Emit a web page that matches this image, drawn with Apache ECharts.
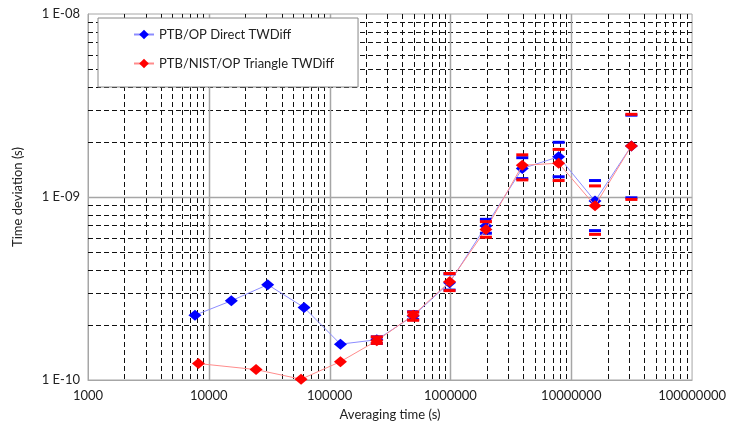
<!DOCTYPE html>
<html>
<head>
<meta charset="utf-8">
<script src="https://cdn.jsdelivr.net/npm/echarts@6/dist/echarts.min.js"></script>
<style>
  html, body { margin: 0; padding: 0; background: #fff; }
  #chart { width: 729px; height: 428px; }
</style>
</head>
<body>
<div id="chart"></div>
<script>
// averaging times (s) and time deviation (s)
const tauBlue = [7680, 15360, 30720, 61440, 122880, 245760, 491520, 983040, 1966080, 3932160, 7864320, 15728640, 31457280]
const tdevBlue = [2.26e-10, 2.71e-10, 3.32e-10, 2.49e-10, 1.57e-10, 1.66e-10, 2.24e-10, 3.40e-10, 6.95e-10, 1.43e-9, 1.66e-9, 9.5e-10, 1.90e-9]
const blueLow = [null, null, null, null, null, 1.585e-10, 2.14e-10, 3.1e-10, 6.34e-10, 1.26e-9, 1.29e-9, 6.55e-10, 9.9e-10]
const blueHigh = [null, null, null, null, null, 1.72e-10, 2.36e-10, 3.8e-10, 7.55e-10, 1.64e-9, 1.99e-9, 1.23e-9, 2.80e-9]

const tauRed = [8200, 24600, 58000, 122880, 245760, 491520, 983040, 1966080, 3932160, 7864320, 15728640, 31457280]
const tdevRed = [1.23e-10, 1.14e-10, 1.01e-10, 1.26e-10, 1.64e-10, 2.26e-10, 3.44e-10, 6.65e-10, 1.49e-9, 1.53e-9, 8.97e-10, 1.90e-9]
const redLow = [null, null, null, null, 1.585e-10, 2.12e-10, 3.08e-10, 6.03e-10, 1.24e-9, 1.23e-9, 6.25e-10, 9.7e-10]
const redHigh = [null, null, null, null, 1.72e-10, 2.35e-10, 3.82e-10, 7.33e-10, 1.70e-9, 1.82e-9, 1.15e-9, 2.83e-9]

const xMajor = [10000, 100000, 1000000, 10000000]
const yMajor = [1e-9]
const yLabels = { '-10': '1 E-10', '-9': '1 E-09', '-8': '1 E-08' }

const font = 'Lato, "Open Sans", sans-serif'

const xMinor = []
for (let d = 1000; d < 1e8; d *= 10) {
  for (let m = 2; m <= 9; m++) xMinor.push(d * m)
}
const yMinor = []
for (const d of [1e-10, 1e-9]) {
  for (let m = 2; m <= 9; m++) yMinor.push(d * m)
}

const dashed = { stroke: '#111', lineWidth: 1, lineDash: [5, 3] }
const solid = { stroke: '#a6a6a6', lineWidth: 1.5 }

// grid lines drawn through the axes' own scales
const gridSeries = (values, vertical, style) => ({
  type: 'custom',
  silent: true,
  z: 1,
  data: values.map((v) => (vertical ? [v, 1e-9] : [10000, v])),
  renderItem: (params, api) => {
    const cs = params.coordSys
    const p = api.coord([api.value(0), api.value(1)])
    const shape = vertical
      ? { x1: Math.round(p[0]) + 0.5, y1: cs.y, x2: Math.round(p[0]) + 0.5, y2: cs.y + cs.height }
      : { x1: cs.x, y1: Math.round(p[1]) + 0.5, x2: cs.x + cs.width, y2: Math.round(p[1]) + 0.5 }
    return { type: 'line', shape, style }
  }
})

const errData = (tau, low, high) =>
  tau.map((t, i) => [t, low[i], high[i]]).filter((d) => d[1] != null)

const errSeries = (data, color, z) => ({
  type: 'custom',
  z,
  silent: true,
  data,
  renderItem: (params, api) => {
    const top = api.coord([api.value(0), api.value(2)])
    const bot = api.coord([api.value(0), api.value(1)])
    const w = 6
    return {
      type: 'group',
      children: [
        { type: 'rect', shape: { x: top[0] - w, y: top[1] - 1.5, width: w * 2, height: 3 }, style: { fill: color } },
        { type: 'rect', shape: { x: bot[0] - w, y: bot[1] - 1.5, width: w * 2, height: 3 }, style: { fill: color } }
      ]
    }
  }
})

const chart = echarts.init(document.getElementById('chart'))
chart.setOption({
  animation: false,
  textStyle: { fontFamily: font },
  grid: { left: 88, right: 36, top: 14, bottom: 48, show: true, borderColor: '#a6a6a6', borderWidth: 1 },
  legend: {
    orient: 'vertical',
    left: 98,
    top: 18,
    data: ['PTB/OP Direct TWDiff', 'PTB/NIST/OP Triangle TWDiff'],
    backgroundColor: '#fff',
    borderColor: '#888',
    borderWidth: 1,
    padding: [10, 24, 17, 35],
    itemGap: 16,
    itemWidth: 20,
    itemHeight: 12,
    textStyle: { fontFamily: font, fontSize: 13, color: '#222' }
  },
  xAxis: {
    type: 'log',
    logBase: 10,
    min: 1000,
    max: 100000000,
    name: 'Averaging time (s)',
    nameLocation: 'middle',
    nameGap: 28,
    nameTextStyle: { fontFamily: font, fontSize: 13, color: '#222' },
    axisLine: { lineStyle: { color: '#a6a6a6' } },
    axisTick: { show: false },
    splitLine: { show: false },
    axisLabel: {
      margin: 9,
      fontFamily: font,
      fontSize: 13,
      color: '#222',
      formatter: (v) => String(Math.round(v))
    }
  },
  yAxis: {
    type: 'log',
    logBase: 10,
    min: 1e-10,
    max: 1e-8,
    name: 'Time deviation (s)',
    nameLocation: 'middle',
    nameGap: 64,
    nameTextStyle: { fontFamily: font, fontSize: 13, color: '#222' },
    axisLine: { lineStyle: { color: '#a6a6a6' } },
    axisTick: { show: false },
    splitLine: { show: false },
    axisLabel: {
      margin: 8,
      fontFamily: font,
      fontSize: 13,
      color: '#222',
      formatter: (v) => yLabels[String(Math.round(Math.log10(v)))] || ''
    }
  },
  series: [
    gridSeries(xMinor, true, dashed),
    gridSeries(yMinor, false, dashed),
    gridSeries(xMajor, true, solid),
    gridSeries(yMajor, false, solid),
    {
      type: 'line',
      name: 'PTB/OP Direct TWDiff',
      data: tauBlue.map((t, i) => [t, tdevBlue[i]]),
      z: 3,
      symbol: 'diamond',
      symbolSize: [13, 11],
      lineStyle: { color: '#8c8cff', width: 1 },
      itemStyle: { color: '#0000ff' }
    },
    errSeries(errData(tauBlue, blueLow, blueHigh), '#0000ff', 4),
    {
      type: 'line',
      name: 'PTB/NIST/OP Triangle TWDiff',
      data: tauRed.map((t, i) => [t, tdevRed[i]]),
      z: 5,
      symbol: 'diamond',
      symbolSize: [13, 11],
      lineStyle: { color: '#ff8c8c', width: 1 },
      itemStyle: { color: '#ff0000' }
    },
    errSeries(errData(tauRed, redLow, redHigh), '#ff0000', 6)
  ]
})
</script>
</body>
</html>
